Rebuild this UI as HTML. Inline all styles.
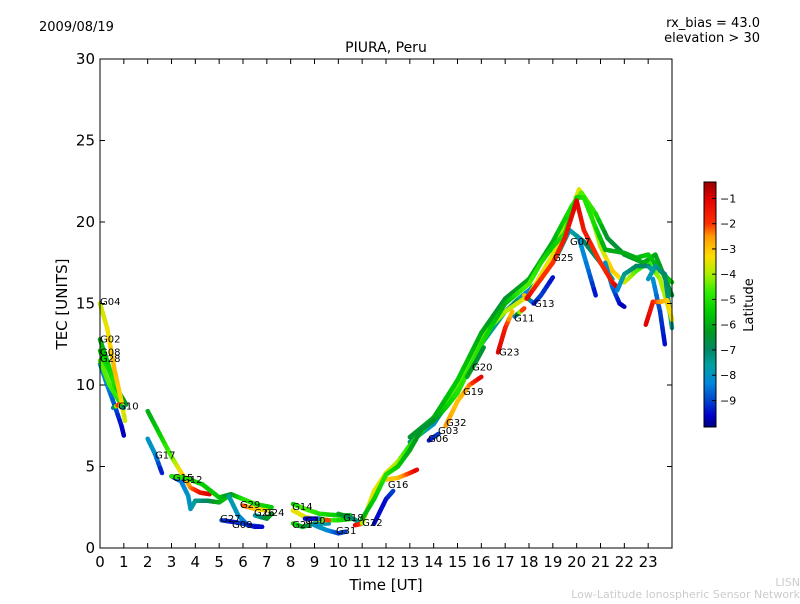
<!DOCTYPE html>
<html><head><meta charset="utf-8"><style>
body{margin:0;background:#fff;width:800px;height:600px;overflow:hidden;font-family:"DejaVu Sans","Liberation Sans",sans-serif}
</style></head><body>
<svg id="chart" width="800" height="600" xmlns="http://www.w3.org/2000/svg" font-family="DejaVu Sans, Liberation Sans, sans-serif">
<defs><linearGradient id="cbg" x1="0" y1="0" x2="0" y2="1"></linearGradient></defs>
<text x="39" y="31" font-size="13">2009/08/19</text>
<text x="760" y="27" font-size="13" text-anchor="end">rx_bias = 43.0</text>
<text x="760" y="42" font-size="13" text-anchor="end">elevation &gt; 30</text>
<text x="386" y="52" font-size="14" text-anchor="middle">PIURA, Peru</text>
<text x="386" y="590" font-size="15" text-anchor="middle">Time [UT]</text>
<text x="67" y="304" font-size="15" text-anchor="middle" transform="rotate(-90 67 304)">TEC [UNITS]</text>
<text x="800" y="586" font-size="11" fill="#ccc" text-anchor="end">LISN</text>
<text x="800" y="598" font-size="11" fill="#ccc" text-anchor="end">Low-Latitude Ionospheric Sensor Network</text>
<g id="marks"></g>
<g id="labels"></g>
<rect x="100" y="59" width="572" height="489" fill="none" stroke="#000" stroke-width="1"/>
<g id="axes"></g>
<rect x="704" y="182" width="12" height="245" fill="url(#cbg)" stroke="#000" stroke-width="1"/>
<g id="cbticks"></g>
<text x="753" y="305" font-size="13" text-anchor="middle" transform="rotate(-90 753 305)">Latitude</text>
</svg>
<script>
const xTicks=[0,1,2,3,4,5,6,7,8,9,10,11,12,13,14,15,16,17,18,19,20,21,22,23];
const yTicks=[0,5,10,15,20,25,30];
const cbTicks=[-1,-2,-3,-4,-5,-6,-7,-8,-9];
const cmapLat=[-0.4,-1,-2,-2.5,-3.3,-4,-4.7,-5.5,-6.3,-7,-7.6,-8.3,-9,-9.6,-10.1];
const cmapCol=["#a00000","#e00000","#ff3000","#ff9900","#ffdd00","#aaee00","#33ee00","#00cc00","#009922","#008866","#00a0a0","#0088dd","#0044cc","#0000cc","#000080"];
// tracks: [hour, TEC, latitude]
const trk_G04=[[0,15,-3.8],[0.3,13.5,-3.5],[0.6,11,-2.8],[0.9,9,-3.2],[1.05,7.8,-3.8]];
const trk_G02=[[0,12.8,-6],[0.3,11.5,-5.5],[0.6,10,-5],[0.9,9.3,-6],[1.1,8.8,-6.5]];
const trk_G08=[[0,12.1,-5.5],[0.4,10.8,-5],[0.8,9.3,-4.5],[1.0,9,-5]];
const trk_G28=[[0,11.5,-4.5],[0.4,10,-4.5],[0.8,9,-5],[1.0,8.6,-4.5]];
const trk_Gb=[[0,11.3,-8],[0.3,10,-8.3],[0.6,8.8,-8.8],[0.9,7.5,-9.5],[1.0,6.9,-9.8]];
const trk_G10=[[0.55,8.6,-9.5],[0.8,8.8,-1],[1.0,8.6,-8]];
const trk_G17=[[2,8.4,-6],[2.5,7,-5.5],[3,5.6,-4.5],[3.5,4.4,-3],[3.8,3.7,-2.5],[4.2,3.4,-1.5],[4.6,3.3,-1]];
const trk_G12=[[3,4.4,-5],[3.6,4.3,-5],[4.3,3.9,-5.5],[5,3.1,-5.5],[5.5,3.3,-6.5],[6,3,-5],[6.5,2.7,-5],[7.2,2.5,-5.5]];
const trk_G17b=[[2,6.7,-8],[2.3,5.8,-8],[2.6,4.6,-9.5]];
const trk_G15=[[3,4.4,-9.5],[3.4,4.1,-8.5],[3.7,3.2,-8],[3.8,2.4,-8],[4,2.9,-7.5],[4.5,2.9,-7],[5,2.8,-6],[5.4,3.2,-5.5]];
const trk_G27=[[5.1,1.7,-9],[5.6,1.6,-9.5],[6,1.5,-9],[6.5,1.3,-9.5],[6.8,1.3,-9.5]];
const trk_G09=[[5.4,3.2,-7.5],[5.8,2.0,-8],[6.2,1.4,-8.5],[6.8,1.3,-9]];
const trk_G29=[[6.0,2.6,-2],[6.5,2.4,-3],[7,2.3,-3.5]];
const trk_G24=[[6.5,2.0,-8],[7.0,1.8,-6.5],[7.2,2.1,-6]];
const trk_G14=[[8.1,2.7,-5.5],[8.6,2.4,-4.5],[9.2,2.1,-5],[10,2.0,-5.5],[10.5,2.0,-6]];
const trk_Gy=[[8.1,2.3,-3.5],[8.6,1.9,-3.5],[9.3,1.7,-4],[10,1.7,-5],[10.6,1.8,-5.5]];
const trk_G21=[[8.1,1.5,-5],[8.5,1.3,-6],[9,1.5,-7],[9.6,1.5,-8]];
const trk_G31=[[9,1.4,-8],[9.5,1.1,-8],[10,0.9,-9],[10.3,1.0,-9]];
const trk_G30=[[8.6,1.8,-9.5],[9.2,1.8,-9.5],[9.6,1.7,-1]];
const trk_G18=[[10,2.1,-6],[10.6,1.8,-7],[11,1.5,-7.5]];
const trk_G22=[[10.7,1.4,-1],[11,1.5,-2]];
const trk_main=[[11,1.8,-6],[11.5,3,-5.5],[12,4.5,-5],[12.5,5,-5.5],[13,6,-6],[13.5,7.3,-6.5],[14,7.8,-6.5],[14.5,8.6,-5.5],[15,9.5,-5],[15.5,11,-4.8],[16,12.5,-5],[16.5,13.8,-5.5],[17,15,-6],[17.5,15.6,-5],[18,16.2,-4.5],[18.5,17.5,-5],[19,18.5,-5.5],[19.5,19.3,-5],[20,21.5,-5.5],[20.3,21.5,-5],[20.7,20,-5],[21.2,18.3,-6],[22,18.1,-6],[22.5,17.8,-6],[23,18,-5.5],[23.5,17,-6],[24,16.3,-5.5]];
const trk_yel=[[11,1.5,-4],[11.5,3.5,-3.5],[12,4.6,-3.5],[12.5,5.3,-4],[13,6.3,-5],[14,8,-5.5],[15,10,-4.5],[16,13,-4.5],[17,14.5,-4],[18,15.5,-3.5],[19,18,-3.5],[19.6,20,-4],[20.1,22,-3.5],[20.5,21,-4],[21,18.5,-4],[21.5,17,-3],[22,16.3,-3.5],[22.5,17,-4.5],[23,17.5,-5],[23.5,16.5,-4],[24,14,-4]];
const trk_grn2=[[13,6.8,-6.5],[14,8,-6],[15,10.3,-5.5],[16,13.2,-6],[17,15.3,-6.5],[18,16.5,-6],[19,18.8,-6],[19.8,21,-5],[20.2,21.8,-4.5],[20.8,20.5,-5],[21.3,19,-6.5],[22,18,-6.5],[22.8,17.5,-6],[23.3,18,-6],[24,15.5,-6.5]];
const trk_teal=[[13,6.5,-7],[14,7.6,-8],[15,9.8,-8.5],[16,12.5,-7.5],[17,14.5,-7.5],[17.5,15.2,-7],[18,15.8,-8.5],[18.5,16.5,-6],[19.2,18,-7],[19.7,19.5,-8],[20.3,18.8,-7],[21,17.5,-7],[21.5,16.5,-7.5]];
const trk_b208=[[20.1,19,-8],[20.5,17,-8.5],[20.8,15.5,-9.5]];
const trk_b218=[[21.2,17.5,-8],[21.5,16,-8.5],[21.8,15,-9.5],[22,14.8,-9.8]];
const trk_G16o=[[12,4.2,-3],[12.5,4.3,-3],[13,4.6,-2],[13.3,4.8,-1]];
const trk_G16b=[[11.5,1.5,-9.5],[12,3,-9.5],[12.3,3.5,-9]];
const trk_G06=[[13.8,6.6,-9.5],[14.2,7.0,-9]];
const trk_G32=[[14.5,7.5,-2.5],[15,9,-3],[15.5,10,-2.5],[16,10.5,-1]];
const trk_G20=[[15.4,10.5,-6],[15.8,11.5,-6.5],[16.1,12.3,-6.5]];
const trk_G23=[[16.7,12,-1],[17,13.5,-1.5],[17.3,14.5,-3]];
const trk_G11=[[17.4,14.2,-9.5],[17.8,14.7,-1]];
const trk_G13=[[17.8,15.5,-2],[18.2,15,-9.5],[18.5,15.5,-9],[19,16.6,-9.5]];
const trk_G25=[[17.9,15.3,-1],[18.5,16.5,-2],[19,17.5,-2],[19.5,19,-1.5],[20,21.3,-1],[20.3,19.5,-1.5],[21,17.5,-2],[21.5,16.3,-1.5],[21.7,16,-1]];
const trk_late=[[22.9,13.7,-1],[23.2,15.1,-1.5],[23.5,15.1,-2.5],[23.8,15.2,-3],[24,14,-3.5]];
const trk_bl=[[23.2,16.5,-8],[23.5,14.5,-9],[23.7,12.5,-9.5]];
const trk_tl1=[[21.7,15.8,-8.5],[22.0,16.8,-7.5],[22.5,17.3,-7],[23,17.3,-7],[23.2,17,-8]];
const trk_tl2=[[23.0,16.5,-8],[23.3,17.3,-7.5],[23.7,16.8,-7],[24,13.5,-7.5]];
const tracks=[trk_Gb,trk_G28,trk_G08,trk_G02,trk_G04,trk_G10,trk_G17b,trk_G17,trk_G15,trk_G12,trk_G09,trk_G27,trk_G29,trk_G24,trk_G21,trk_G31,trk_Gy,trk_G14,trk_G30,trk_G18,trk_G22,trk_G16b,trk_G16o,trk_teal,trk_yel,trk_grn2,trk_main,trk_b208,trk_b218,trk_G06,trk_G32,trk_G20,trk_G23,trk_G11,trk_G13,trk_G25,trk_tl1,trk_tl2,trk_bl,trk_late];
const labelNames=["G04","G02","G08","G28","G10","G17","G15","G12","G29","G26","G24","G27","G09","G14","G30","G21","G18","G22","G31","G16","G06","G03","G32","G19","G20","G23","G11","G13","G25","G07"];
const labelHours=[0,0,0,0,0.76,2.31,3.06,3.44,5.87,6.46,6.88,5.04,5.54,8.06,8.6,8.06,10.2,11.0,9.9,12.08,13.76,14.18,14.52,15.23,15.61,16.74,17.37,18.21,19.01,19.72];
const labelTec=[14.9,12.6,11.8,11.4,8.5,5.5,4.1,4.0,2.45,1.96,1.96,1.6,1.23,2.33,1.47,1.23,1.66,1.35,0.86,3.68,6.5,7.0,7.5,9.4,10.9,11.8,13.9,14.8,17.6,18.6];
const svgNS="http://www.w3.org/2000/svg";
const X=h=>100+h*572/24, Y=v=>548-v*489/30;
function col(l){
 if(l>=cmapLat[0])return cmapCol[0];
 for(let i=1;i<cmapLat.length;i++){ if(l>=cmapLat[i]){const t=(cmapLat[i-1]-l)/(cmapLat[i-1]-cmapLat[i]);return mix(cmapCol[i-1],cmapCol[i],t);} }
 return cmapCol[cmapCol.length-1];
}
function mix(a,b,t){const p=s=>[1,3,5].map(i=>parseInt(s.substr(i,2),16));const A=p(a),B=p(b);return "rgb("+A.map((v,i)=>Math.round(v+(B[i]-v)*t)).join(",")+")";}
const marks=document.getElementById('marks');
tracks.forEach((tr,ti)=>{
 const g=document.createElementNS(svgNS,'g');
 
 
 for(let i=0;i<tr.length-1;i++){
  const a=tr[i],b=tr[i+1];const n=4;
  for(let k=0;k<n;k++){
   const t0=k/n,t1=(k+1)/n;
   const ln=document.createElementNS(svgNS,'line');
   
   
   ln.setAttribute('x1',X(a[0]+(b[0]-a[0])*t0));ln.setAttribute('y1',Y(a[1]+(b[1]-a[1])*t0));
   ln.setAttribute('x2',X(a[0]+(b[0]-a[0])*t1));ln.setAttribute('y2',Y(a[1]+(b[1]-a[1])*t1));
   ln.setAttribute('stroke',col(a[2]+(b[2]-a[2])*(t0+t1)/2));
   ln.setAttribute('stroke-width','4.5');ln.setAttribute('stroke-linecap','round');
   g.appendChild(ln);
  }
 }
 marks.appendChild(g);
});
const lg=document.getElementById('labels');
labelNames.forEach((n,i)=>{
 const t=document.createElementNS(svgNS,'text');
 
 
 t.setAttribute('x',X(labelHours[i]));t.setAttribute('y',Y(labelTec[i]));
 t.setAttribute('font-size','10');t.textContent=n;lg.appendChild(t);
});
const ax=document.getElementById('axes');
function el(tag,attrs){const e=document.createElementNS(svgNS,tag);for(const k in attrs)e.setAttribute(k,attrs[k]);return e;}
xTicks.forEach(h=>{
 const l1=el('line',{x1:X(h),x2:X(h),y1:548,y2:543,stroke:'#000'});
 
 
 ax.appendChild(l1);
 const l2=el('line',{x1:X(h),x2:X(h),y1:59,y2:64,stroke:'#000'});
 
 
 ax.appendChild(l2);
 const t=el('text',{x:X(h),y:567,'font-size':'15','text-anchor':'middle'});
 
 
 t.textContent=h;ax.appendChild(t);
});
yTicks.forEach(v=>{
 const l1=el('line',{x1:100,x2:105,y1:Y(v),y2:Y(v),stroke:'#000'});
 
 
 ax.appendChild(l1);
 const l2=el('line',{x1:667,x2:672,y1:Y(v),y2:Y(v),stroke:'#000'});
 
 
 ax.appendChild(l2);
 const t=el('text',{x:95,y:Y(v)+5,'font-size':'15','text-anchor':'end'});
 
 
 t.textContent=v;ax.appendChild(t);
});
const grad=document.getElementById('cbg');
cmapLat.forEach((l,i)=>{const s=el('stop',{offset:((-0.35-l)/(10.05-0.35)*100).toFixed(1)+'%','stop-color':cmapCol[i]});grad.appendChild(s);});
const cb=document.getElementById('cbticks');
const cbY=l=>182+(-0.35-l)*245/9.7;
cbTicks.forEach(l=>{
 const tk=el('line',{x1:712,x2:716,y1:cbY(l),y2:cbY(l),stroke:'#000'});
 
 
 cb.appendChild(tk);
 const t=el('text',{x:720,y:cbY(l)+4,'font-size':'11'});
 
 
 t.textContent='\u2212'+(-l);cb.appendChild(t);
});
</script>
</body></html>
